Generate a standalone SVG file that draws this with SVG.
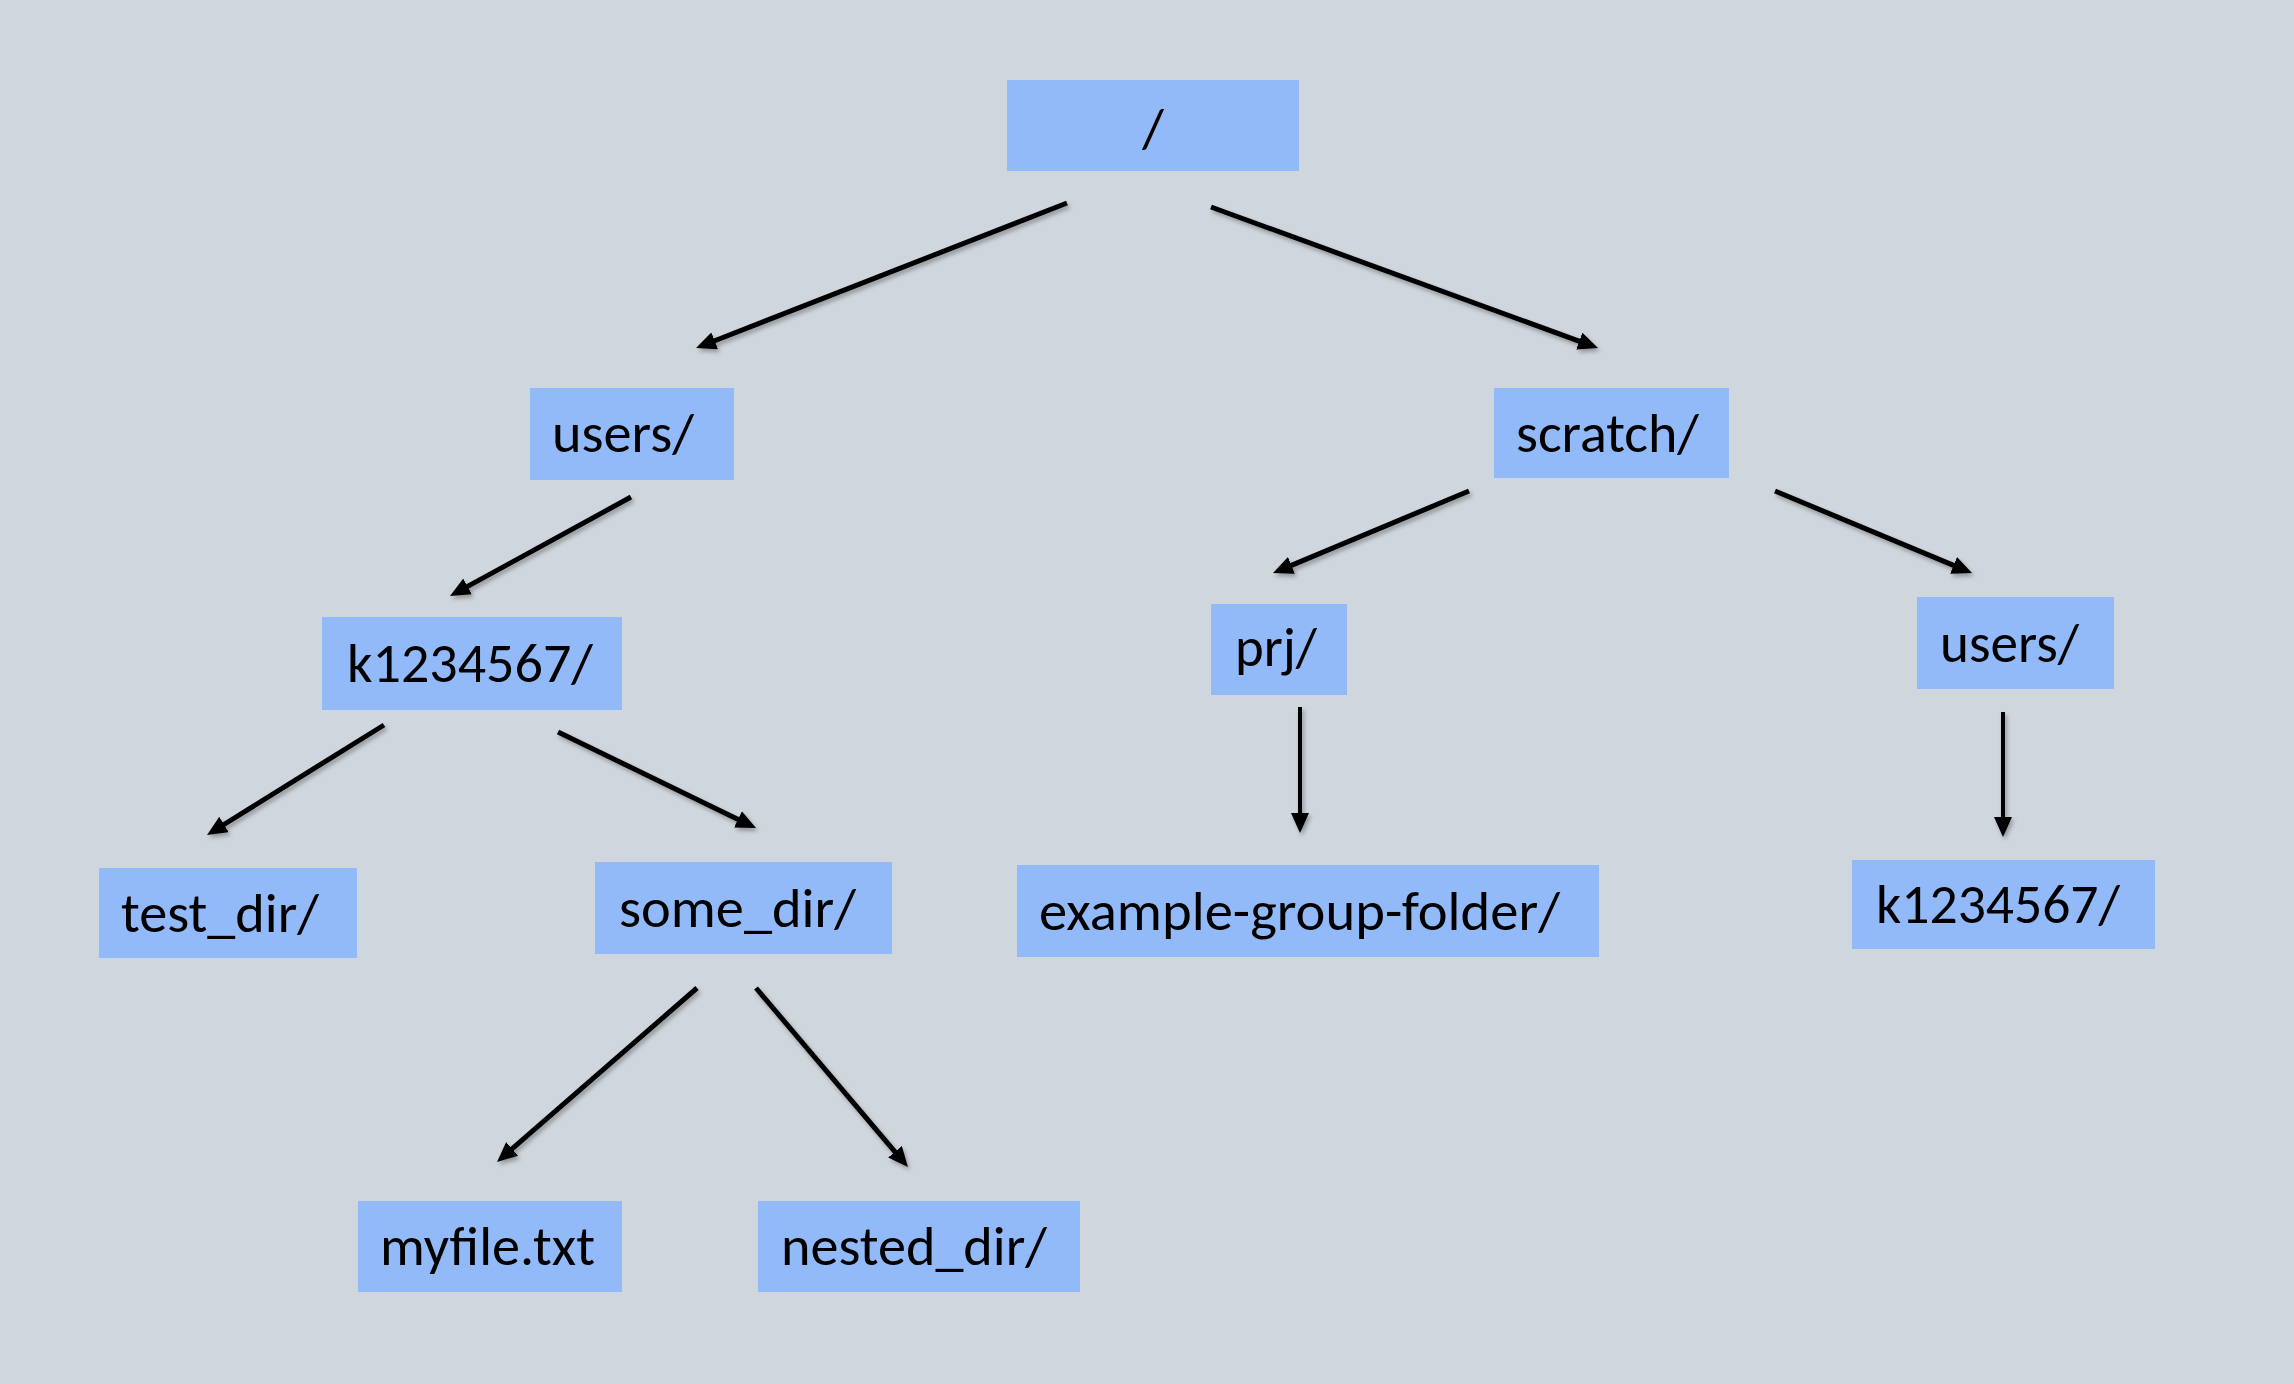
<svg xmlns="http://www.w3.org/2000/svg" width="2294" height="1384" viewBox="0 0 2294 1384">
<style>
.box{fill:#92B9F8;}
.lbl{font-family:Carlito,Lato,"Open Sans",sans-serif;font-size:56px;fill:#000;}
.edge{stroke:#000;stroke-width:5;fill:none;marker-end:url(#ah);}
.vedge{stroke:#000;stroke-width:4;fill:none;marker-end:url(#ah);}
</style>
<defs>
<marker id="ah" markerUnits="userSpaceOnUse" markerWidth="20" markerHeight="18" refX="2" refY="9" orient="auto">
<path d="M0,0 L20,9 L0,18 z" fill="#000"/>
</marker>
<filter id="sh" x="-10%" y="-10%" width="120%" height="120%">
<feDropShadow dx="2" dy="3" stdDeviation="2" flood-color="#000" flood-opacity="0.3"/>
</filter>
</defs>
<rect x="0" y="0" width="2294" height="1384" fill="#CFD6DD"/>
<g id="connectors" filter="url(#sh)">
<line class="edge" x1="1067" y1="203" x2="712.8" y2="341.5"/>
<line class="edge" x1="1211" y1="207" x2="1581.1" y2="341.8"/>
<line class="edge" x1="631" y1="497" x2="465.8" y2="587.4"/>
<line class="edge" x1="384" y1="725" x2="222.3" y2="825.5"/>
<line class="edge" x1="558" y1="732" x2="739.8" y2="820.2"/>
<line class="edge" x1="697" y1="988" x2="510.6" y2="1150.2"/>
<line class="edge" x1="756" y1="988" x2="896.3" y2="1153.3"/>
<line class="edge" x1="1469" y1="491" x2="1289.6" y2="566.1"/>
<line class="edge" x1="1775" y1="491" x2="1955.4" y2="566.1"/>
<line class="vedge" x1="1300" y1="707" x2="1300" y2="815"/>
<line class="vedge" x1="2003" y1="712" x2="2003" y2="819"/>
</g>
<g id="root"><rect class="box" x="1007" y="80" width="292" height="91"/><text class="lbl" x="1153" y="147" text-anchor="middle">/</text></g>
<g id="users-left"><rect class="box" x="530" y="388" width="204" height="92"/><text class="lbl" x="552" y="452" textLength="142" lengthAdjust="spacingAndGlyphs">users/</text></g>
<g id="scratch"><rect class="box" x="1494" y="388" width="235" height="90"/><text class="lbl" x="1516" y="452" textLength="183" lengthAdjust="spacingAndGlyphs">scratch/</text></g>
<g id="k1234567-left"><rect class="box" x="322" y="617" width="300" height="93"/><text class="lbl" x="347" y="682" textLength="246" lengthAdjust="spacingAndGlyphs">k1234567/</text></g>
<g id="prj"><rect class="box" x="1211" y="604" width="136" height="91"/><text class="lbl" x="1235" y="666" textLength="82" lengthAdjust="spacingAndGlyphs">prj/</text></g>
<g id="users-right"><rect class="box" x="1917" y="597" width="197" height="92"/><text class="lbl" x="1940" y="662" textLength="139" lengthAdjust="spacingAndGlyphs">users/</text></g>
<g id="test_dir"><rect class="box" x="99" y="868" width="258" height="90"/><text class="lbl" x="121" y="932" textLength="198" lengthAdjust="spacingAndGlyphs">test_dir/</text></g>
<g id="some_dir"><rect class="box" x="595" y="862" width="297" height="92"/><text class="lbl" x="619" y="927" textLength="237" lengthAdjust="spacingAndGlyphs">some_dir/</text></g>
<g id="example-group-folder"><rect class="box" x="1017" y="865" width="582" height="92"/><text class="lbl" x="1039" y="930" textLength="521" lengthAdjust="spacingAndGlyphs">example-group-folder/</text></g>
<g id="k1234567-right"><rect class="box" x="1852" y="860" width="303" height="89"/><text class="lbl" x="1876" y="923" textLength="244" lengthAdjust="spacingAndGlyphs">k1234567/</text></g>
<g id="myfile"><rect class="box" x="358" y="1201" width="264" height="91"/><text class="lbl" x="380" y="1265" textLength="215" lengthAdjust="spacingAndGlyphs">myfile.txt</text></g>
<g id="nested_dir"><rect class="box" x="758" y="1201" width="322" height="91"/><text class="lbl" x="781" y="1265" textLength="266" lengthAdjust="spacingAndGlyphs">nested_dir/</text></g>
</svg>
